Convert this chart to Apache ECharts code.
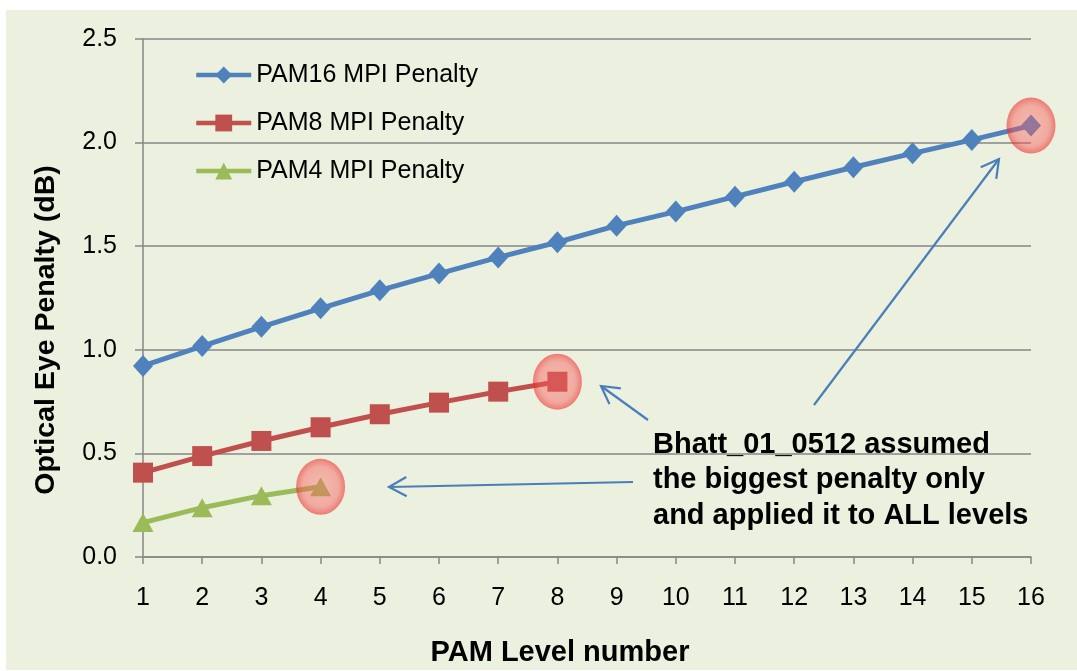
<!DOCTYPE html>
<html>
<head>
<meta charset="utf-8">
<script src="https://cdn.jsdelivr.net/npm/echarts@6/dist/echarts.min.js"></script>
<style>
  html, body { margin: 0; padding: 0; background: #ffffff; }
  #wrap { position: relative; width: 1077px; height: 671px; overflow: hidden; background: #ffffff; }
  #panel { position: absolute; left: 6px; top: 10px; width: 1071px; height: 660px; background: #ebf1de; }
  #chart { position: absolute; left: 0; top: 0; width: 1077px; height: 671px; }
</style>
</head>
<body>
<div id="wrap">
  <div id="panel"></div>
  <div id="chart"></div>
</div>
<script>
// ---- data ----
const categories = ['1','2','3','4','5','6','7','8','9','10','11','12','13','14','15','16'];
const pam16 = [0.922, 1.018, 1.111, 1.200, 1.287, 1.368, 1.446, 1.519, 1.599, 1.667, 1.739, 1.811, 1.881, 1.948, 2.013, 2.082];
const pam8  = [0.407, 0.487, 0.560, 0.626, 0.689, 0.745, 0.798, 0.846];
const pam4  = [0.166, 0.238, 0.296, 0.339];
const seriesNames = ['PAM16 MPI Penalty', 'PAM8 MPI Penalty', 'PAM4 MPI Penalty'];
const yMin = 0, yMax = 2.5, yStep = 0.5;
const annotationLines = ['Bhatt_01_0512 assumed', 'the biggest penalty only', 'and applied it to ALL levels'];
const xTitle = 'PAM Level number';
const yTitle = 'Optical Eye Penalty (dB)';

// ---- styling ----
const FONT = "'Liberation Sans', Arial, sans-serif";
const BOLD = "bold 29px 'Liberation Sans', Arial, sans-serif";
const AXIS = '#868686';
const colors = ['#4f81bd', '#c0504d', '#9bbb59'];

const highlight = {
  symbol: 'circle',
  symbolSize: [49, 56],
  label: { show: false },
  itemStyle: {
    color: {
      type: 'radial', x: 0.5, y: 0.5, r: 0.5,
      colorStops: [
        { offset: 0, color: 'rgba(250,105,105,0.40)' },
        { offset: 0.72, color: 'rgba(248,85,85,0.45)' },
        { offset: 1, color: 'rgba(238,35,35,0.58)' }
      ]
    }
  },
  data: [{ type: 'max' }]
};

function arrow(x1, y1, x2, y2) {
  const a = Math.atan2(y2 - y1, x2 - x1);
  const L = 20, s = Math.PI / 6.2;
  const p1 = [x2 - L * Math.cos(a - s), y2 - L * Math.sin(a - s)];
  const p2 = [x2 - L * Math.cos(a + s), y2 - L * Math.sin(a + s)];
  const st = { stroke: '#4a7ebb', lineWidth: 2.2, fill: null };
  return [
    { type: 'polyline', shape: { points: [[x1, y1], [x2, y2]] }, style: st, z: 10 },
    { type: 'polyline', shape: { points: [p1, [x2, y2], p2] }, style: st, z: 10 }
  ];
}

const graphics = [].concat(
  arrow(814, 405, 999, 159),
  arrow(648, 420, 601, 386),
  arrow(633, 482, 389, 487),
  [
    {
      type: 'text', left: 653, top: 427, z: 10,
      style: { text: annotationLines.join('\n'), font: BOLD, fill: '#000', lineHeight: 35.5 }
    },
    {
      type: 'text', x: 560, y: 653, z: 10,
      style: { text: xTitle, font: BOLD, fill: '#000', align: 'center', verticalAlign: 'middle' }
    },
    {
      type: 'text', x: 46, y: 330, rotation: Math.PI / 2, z: 10,
      style: { text: yTitle, font: "bold 28.5px 'Liberation Sans', Arial, sans-serif", fill: '#000', align: 'center', verticalAlign: 'middle' }
    }
  ]
);

const chart = echarts.init(document.getElementById('chart'), null, { renderer: 'canvas' });
chart.setOption({
  animation: false,
  backgroundColor: 'transparent',
  color: colors,
  textStyle: { fontFamily: FONT },
  grid: { left: 143, right: 46, top: 39, bottom: 114, containLabel: false },
  legend: {
    orient: 'vertical', left: 194, top: 60, padding: 0,
    itemWidth: 55, itemHeight: 21, itemGap: 18,
    lineStyle: { width: 4.5 },
    textStyle: { fontSize: 25, color: '#000', fontFamily: FONT, lineHeight: 30 },
    data: seriesNames
  },
  xAxis: {
    type: 'category', data: categories, boundaryGap: false,
    axisLine: { show: true, lineStyle: { color: AXIS, width: 1.5 } },
    axisTick: { show: true, length: 7, alignWithLabel: true, lineStyle: { color: AXIS, width: 1.5 } },
    axisLabel: { fontSize: 25, color: '#000', fontFamily: FONT, margin: 29 },
    splitLine: { show: false }
  },
  yAxis: {
    type: 'value', min: yMin, max: yMax, interval: yStep,
    axisLine: { show: true, lineStyle: { color: AXIS, width: 1.5 } },
    axisTick: { show: true, length: 8, lineStyle: { color: AXIS, width: 1.5 } },
    axisLabel: { fontSize: 25, color: '#000', fontFamily: FONT, margin: 26, formatter: v => v.toFixed(1) },
    splitLine: { show: true, lineStyle: { color: AXIS, width: 1.5 } }
  },
  series: [
    {
      name: seriesNames[0], type: 'line', data: pam16,
      symbol: 'diamond', symbolSize: [20, 22],
      lineStyle: { width: 5, color: colors[0] }, itemStyle: { color: colors[0] },
      markPoint: highlight, z: 3
    },
    {
      name: seriesNames[1], type: 'line', data: pam8,
      symbol: 'rect', symbolSize: [20, 20],
      lineStyle: { width: 5, color: colors[1] }, itemStyle: { color: colors[1] },
      markPoint: highlight, z: 3
    },
    {
      name: seriesNames[2], type: 'line', data: pam4,
      symbol: 'triangle', symbolSize: [21, 19],
      lineStyle: { width: 5, color: colors[2] }, itemStyle: { color: colors[2] },
      markPoint: highlight, z: 3
    }
  ],
  graphic: graphics
});
</script>
</body>
</html>
